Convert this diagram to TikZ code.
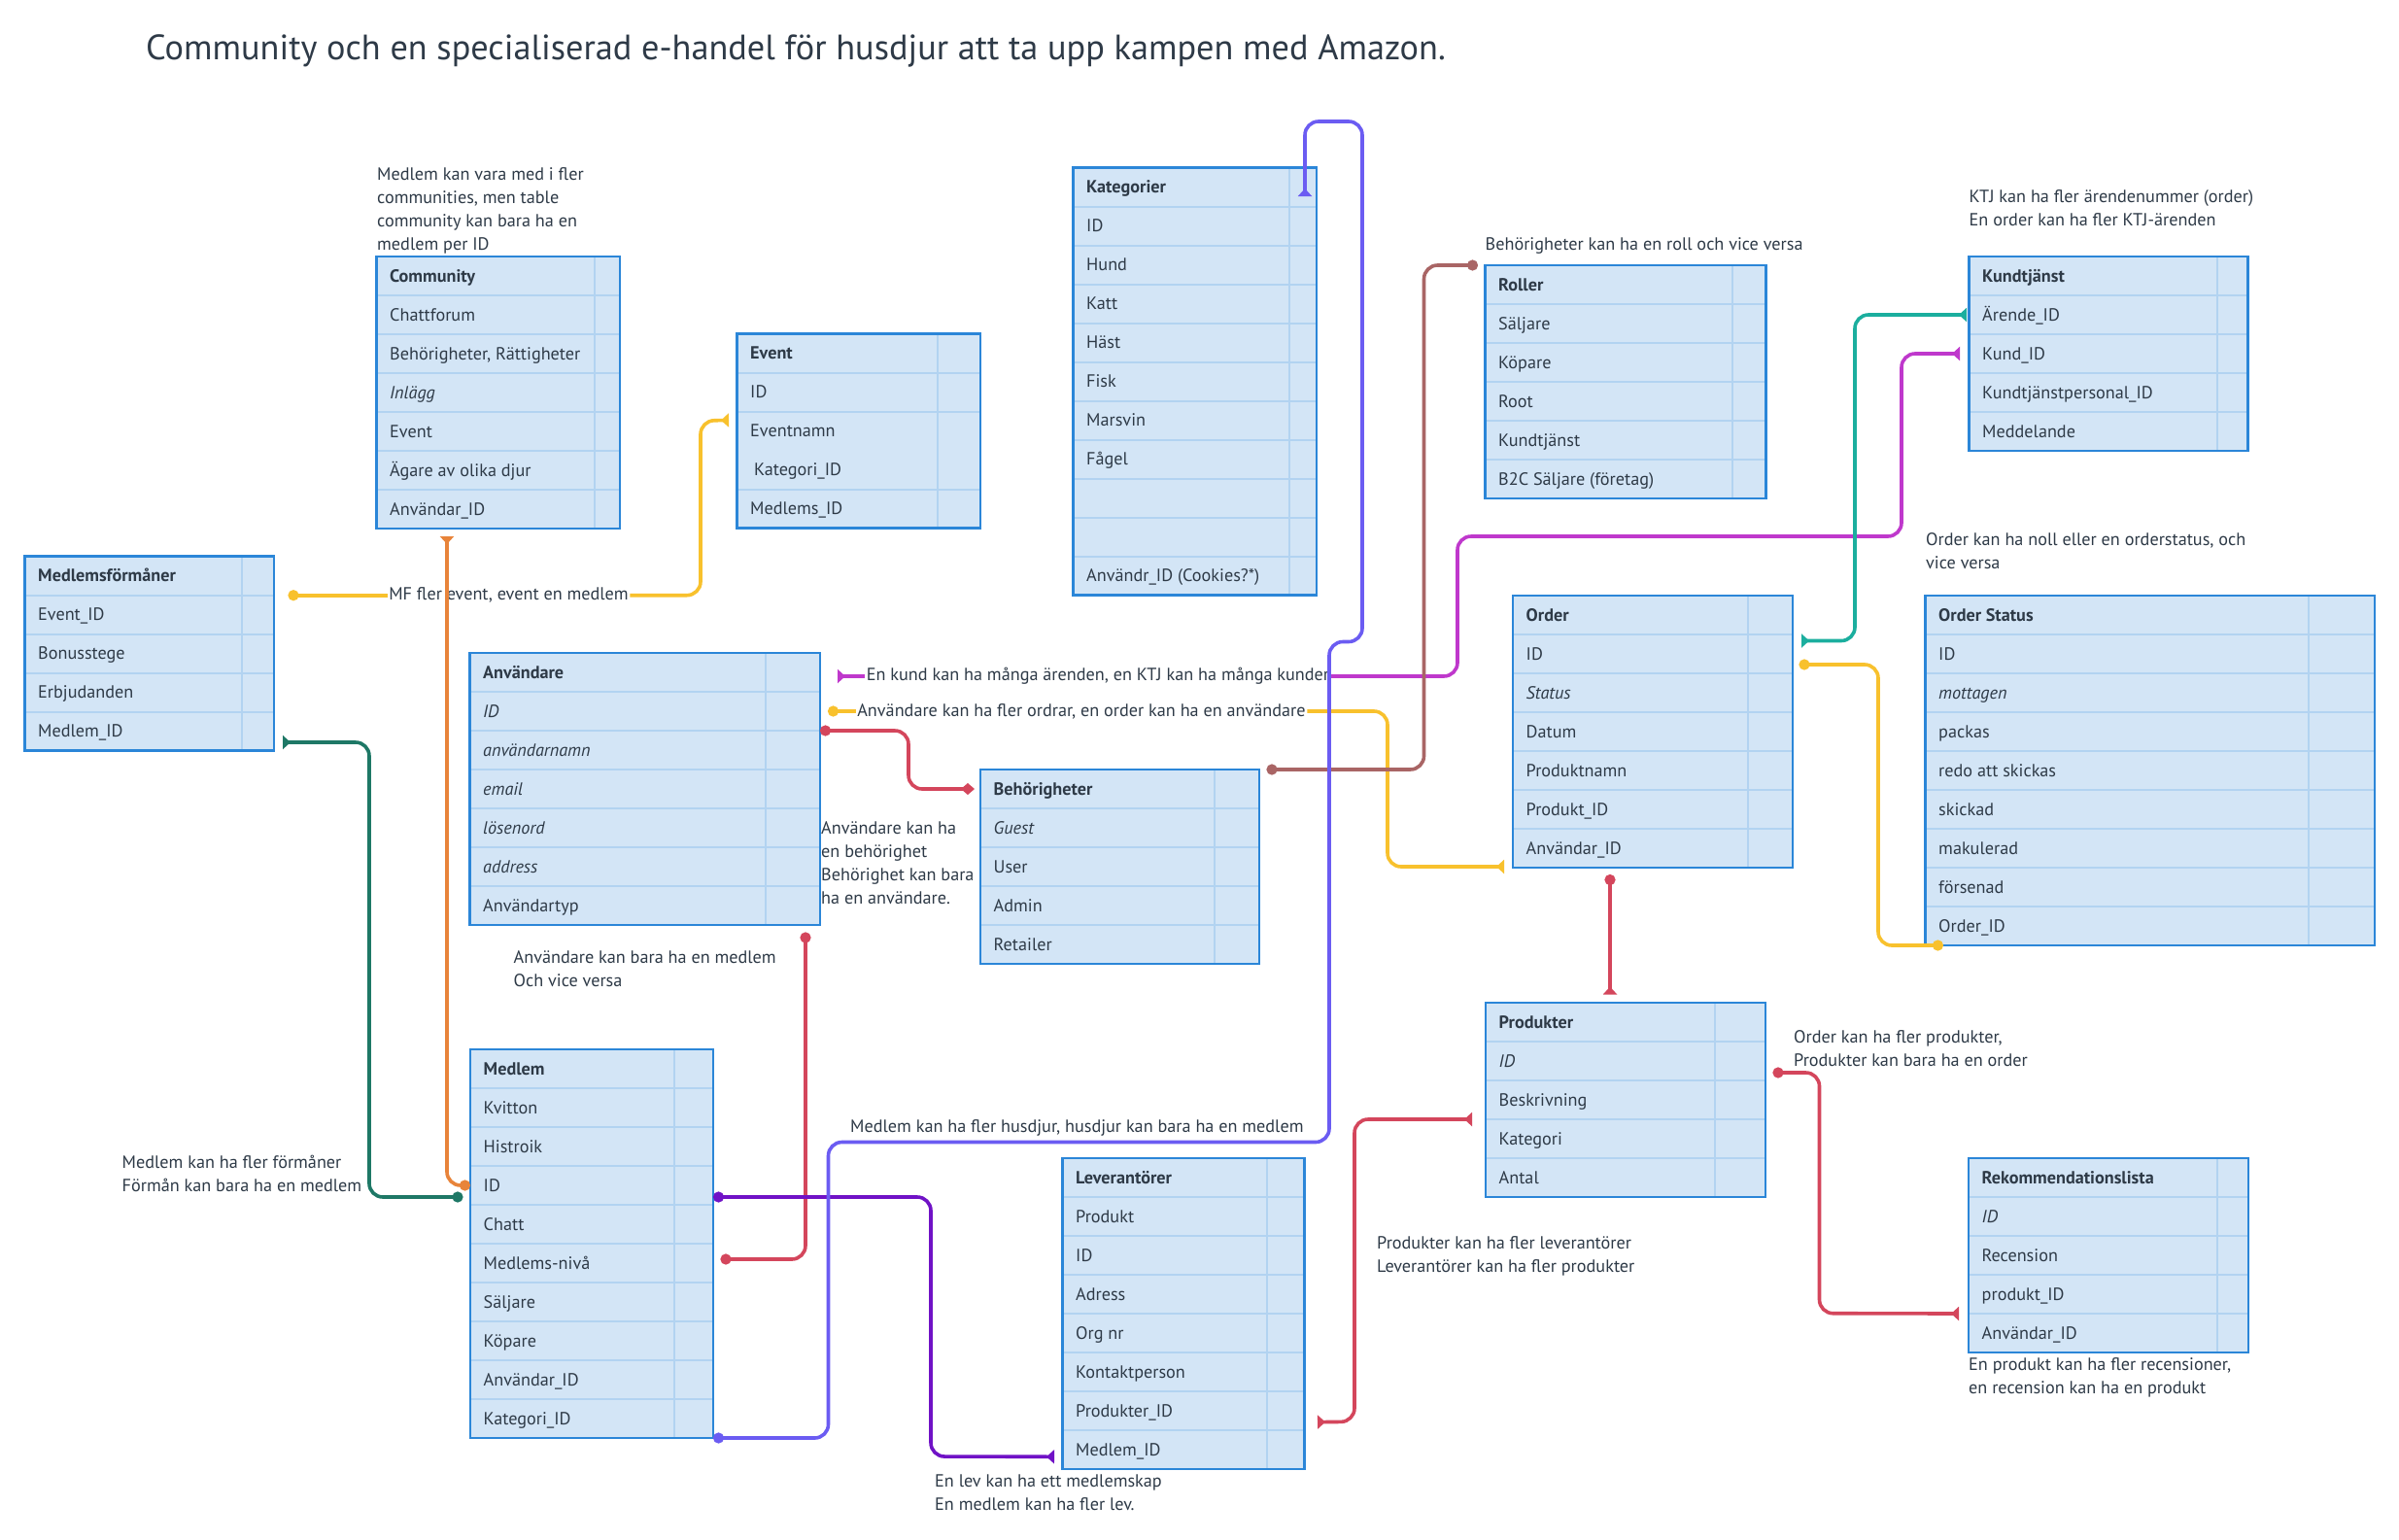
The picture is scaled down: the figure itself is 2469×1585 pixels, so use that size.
\documentclass[tikz,border=0pt]{standalone}
\usepackage{fontspec}
\setmainfont{PT Sans}
\usetikzlibrary{arrows.meta,calc}
\definecolor{tborder}{HTML}{2B86D8}
\definecolor{tfill}{HTML}{D3E5F6}
\definecolor{tsep}{HTML}{B2D3F1}
\definecolor{txt}{HTML}{2E3A47}
\definecolor{cyellow}{HTML}{F8C12D}
\definecolor{corange}{HTML}{E8843A}
\definecolor{cgreen}{HTML}{1E7866}
\definecolor{cred}{HTML}{D4465C}
\definecolor{cmag}{HTML}{BF38CC}
\definecolor{cteal}{HTML}{1BAE9E}
\definecolor{cviolet}{HTML}{6B5CF2}
\definecolor{cpurple}{HTML}{7012C6}
\definecolor{cbrown}{HTML}{A96565}
\tikzset{
  dotS/.tip={Circle[length=11pt,width=11pt]},
  triS/.tip={Triangle[reversed,length=8pt,width=14pt]},
  diaS/.tip={Diamond[length=14pt,width=12pt]},
  cn/.style={line width=3.6pt, rounded corners=14pt},
  txtf/.style={font=\fontsize{18.2}{24}\selectfont, text=txt, inner sep=0pt},
  note/.style={txtf, anchor=base west},
  lbl/.style={txtf, fill=white, inner sep=1.5pt},
  rowbox/.style={inner sep=0pt, outer sep=0pt, minimum height=40pt},
  tabsep/.style={draw=tsep, line width=2pt},
  tabline/.style={draw=tborder, line width=2.5pt}
}
% #1 name, #2 left, #3 top, #4 width, #5 right col width, #6 rows, #7 skipped separator, #8 rows
\newcommand\erdtab[8]{%
  \pgfmathsetmacro\erdH{40*#6}
  \node[inner sep=0pt, outer sep=0pt, minimum width=#4pt, minimum height=\erdH pt, anchor=north west, fill=tfill] (#1) at (#2,#3) {};
  \foreach \txt [count=\i] in {#8} {
    \node[rowbox, minimum width=#4pt, anchor=north west] (#1-\i) at (#2, #3+40*\i-40) {};
    \node[note] at (#2+13.5, #3+40*\i-14) {\ifnum\i=1 \bfseries\fi\txt};
    \ifnum\i<#6 \ifnum\i=#7 \else \draw[tabsep] (#1-\i.south west) -- (#1-\i.south east);\fi\fi
  }
  \draw[tabsep] ($(#1.north east)+(-#5,0)$) -- ($(#1.south east)+(-#5,0)$);
  \draw[tabline] (#1.north west) rectangle (#1.south east);
}
% #1 name, #2 x, #3 first baseline, #4 lines
\newcommand\notelines[4]{%
  \foreach \t [count=\k] in {#4} {
    \node[note] (#1-\k) at (#2, #3+24*\k-24) {\t};
  }
}
\begin{document}
\begin{tikzpicture}[x=1pt,y=-1pt]
\fill[white] (0,0) rectangle (2469,1585);
\useasboundingbox (0,0) rectangle (2469,1585);

\node[anchor=base west, font=\fontsize{36.3}{42}\selectfont, text=txt, inner sep=0pt] (title) at (150,61)
  {Community och en specialiserad e-handel för husdjur att ta upp kampen med Amazon.};

% tables
\erdtab{comm}{387.5}{264}{250.5}{26}{7}{0}{Community, Chattforum, {Behörigheter, Rättigheter}, \textit{Inlägg}, Event, Ägare av olika djur, Användar\_ID}
\erdtab{event}{758.5}{343.5}{250.5}{44}{5}{3}{Event, ID, Eventnamn, {\hspace{4pt}Kategori\_ID}, Medlems\_ID}
\erdtab{kat}{1104.5}{172.5}{250.5}{28}{11}{0}{Kategorier, ID, Hund, Katt, Häst, Fisk, Marsvin, Fågel, {}, {}, Användr\_ID (Cookies?*)}
\erdtab{mf}{25.5}{572.7}{256.5}{33}{5}{0}{Medlemsförmåner, Event\_ID, Bonusstege, Erbjudanden, Medlem\_ID}
\erdtab{anv}{483.5}{672}{360.5}{56}{7}{0}{Användare, \textit{ID}, \textit{användarnamn}, \textit{email}, \textit{lösenord}, \textit{address}, Användartyp}
\erdtab{beh}{1009}{792}{287}{46.5}{5}{0}{Behörigheter, \textit{Guest}, User, Admin, Retailer}
\erdtab{roller}{1528.5}{273}{289}{34.5}{6}{0}{Roller, Säljare, Köpare, Root, Kundtjänst, B2C Säljare (företag)}
\erdtab{ktj}{2026.5}{264}{287}{32}{5}{0}{Kundtjänst, Ärende\_ID, Kund\_ID, Kundtjänstpersonal\_ID, Meddelande}
\erdtab{order}{1557}{613}{288}{46.5}{7}{0}{Order, ID, \textit{Status}, Datum, Produktnamn, Produkt\_ID, Användar\_ID}
\erdtab{ostat}{1981.5}{613}{462.5}{68}{9}{0}{Order Status, ID, \textit{mottagen}, packas, redo att skickas, skickad, makulerad, försenad, Order\_ID}
\erdtab{medlem}{484}{1080}{250}{40}{10}{0}{Medlem, Kvitton, Histroik, ID, Chatt, Medlems-nivå, Säljare, Köpare, Användar\_ID, Kategori\_ID}
\erdtab{lev}{1093.5}{1192}{249}{38.5}{8}{0}{Leverantörer, Produkt, ID, Adress, Org nr, Kontaktperson, Produkter\_ID, Medlem\_ID}
\erdtab{prod}{1529}{1032}{288}{52}{5}{0}{Produkter, \textit{ID}, Beskrivning, Kategori, Antal}
\erdtab{rek}{2026}{1192}{288}{32}{5}{0}{Rekommendationslista, \textit{ID}, Recension, produkt\_ID, Användar\_ID}

% notes
\notelines{nComm}{388}{185}{Medlem kan vara med i fler, {communities, men table}, community kan bara ha en, medlem per ID}
\notelines{nRoll}{1528.5}{257}{Behörigheter kan ha en roll och vice versa}
\notelines{nKtj}{2026.5}{208}{KTJ kan ha fler ärendenummer (order), En order kan ha fler KTJ-ärenden}
\notelines{nOst}{1982}{561}{{Order kan ha noll eller en orderstatus, och}, vice versa}
\notelines{nBeh}{845}{858}{Användare kan ha, en behörighet, Behörighet kan bara, ha en användare.}
\notelines{nMed}{528.5}{991}{Användare kan bara ha en medlem, Och vice versa}
\notelines{nForm}{125.5}{1202}{Medlem kan ha fler förmåner, Förmån kan bara ha en medlem}
\notelines{nHus}{875}{1165}{{Medlem kan ha fler husdjur, husdjur kan bara ha en medlem}}
\notelines{nProd}{1846}{1073}{{Order kan ha fler produkter,}, Produkter kan bara ha en order}
\notelines{nLev}{1417}{1285}{Produkter kan ha fler leverantörer, Leverantörer kan ha fler produkter}
\notelines{nLevM}{962}{1530}{En lev kan ha ett medlemskap, En medlem kan ha fler lev.}
\notelines{nRek}{2026}{1410}{{En produkt kan ha fler recensioner,}, en recension kan ha en produkt}

% labelled connectors
\node[lbl] (labC) at (523.5,612.7) {MF fler event, event en medlem};
\draw[cn, cyellow, {dotS}-] ($(mf-1.south east)+(14.5,0)$) -- (labC);
\draw[cn, cyellow, -{triS}] (labC.east) -| (721,433) -- ($(event-3.west)+(-8.5,-11)$);

\node[lbl] (labF) at (1130,696) {En kund kan ha många ärenden, en KTJ kan ha många kunder};
\draw[cn, cmag, {triS}-] ($(anv-1.east)+(18,4)$) -- (labF);
\draw[cn, cmag, -{triS}] (labF.east) -| (1500,552) -| (1957,364) -- ($(ktj-3.west)+(-9.5,0)$);

\node[lbl] (labG) at (1113,732) {Användare kan ha fler ordrar, en order kan ha en användare};
\draw[cn, cyellow, {dotS}-] ($(anv-2.east)+(8,0)$) -- (labG);
\draw[cn, cyellow, -{triS}] (labG.east) -| (1428,892) -- ($(order.south west)+(-9,-1)$);

% other connectors
\draw[cn, corange, {triS}-{dotS}] ($(comm.south west)+(72.5,8)$) |- (medlem-4.west);
\draw[cn, cgreen, {triS}-{dotS}] ($(mf-5.east)+(9,11.3)$) -| (380,1232) -- ($(medlem-4.west)+(-7.5,12)$);
\draw[cn, cred, {dotS}-{diaS}] (anv-2.south east) -| (935,812) -- ($(beh-1.west)+(-6,0)$);
\draw[cn, cred, {dotS}-{dotS}] ($(anv.south east)+(-15,7.5)$) |- ($(medlem-6.east)+(7.5,-4)$);
\draw[cn, cbrown, {dotS}-{dotS}] ($(roller.north west)+(-7.5,0)$) -| (1465.5,792) -- ($(beh.north east)+(7.5,0)$);
\draw[cn, cteal, {triS}-{triS}] ($(ktj-2.west)+(-2.5,0)$) -| (1909,659.5) -- ($(order-2.east)+(9,-13.5)$);
\draw[cn, cyellow, {dotS}-{dotS}] ($(order-2.east)+(6.5,11)$) -| (1933,973) -- ($(ostat.south west)+(18.4,0)$);
\draw[cn, cred, {dotS}-{triS}] ($(order.south west)+(100,7)$) -- ($(prod.north west)+(128,-8.5)$);
\draw[cn, cred, {triS}-{triS}] ($(prod-3.south west)+(-14,0)$) -| (1394,1463.3) -- ($(lev-7.east)+(13.5,11.6)$);
\draw[cn, cpurple, {dotS}-{triS}] ($(medlem-4.east)+(0,12)$) -| (958,1499) -- ($(lev-8.west)+(-8.5,7.3)$);
\draw[cn, cviolet, {dotS}-{triS}] (medlem.south east) -| (852.5,1175.5) -| (1368,660.5) -| (1402,125) -| ($(kat.north east)+(-12,29.5)$);
\draw[cn, cred, {dotS}-{triS}] ($(prod-2.east)+(7.5,12)$) -| (1872.5,1351.7) -- ($(rek-4.south west)+(-10,0)$);
\end{tikzpicture}
\end{document}
